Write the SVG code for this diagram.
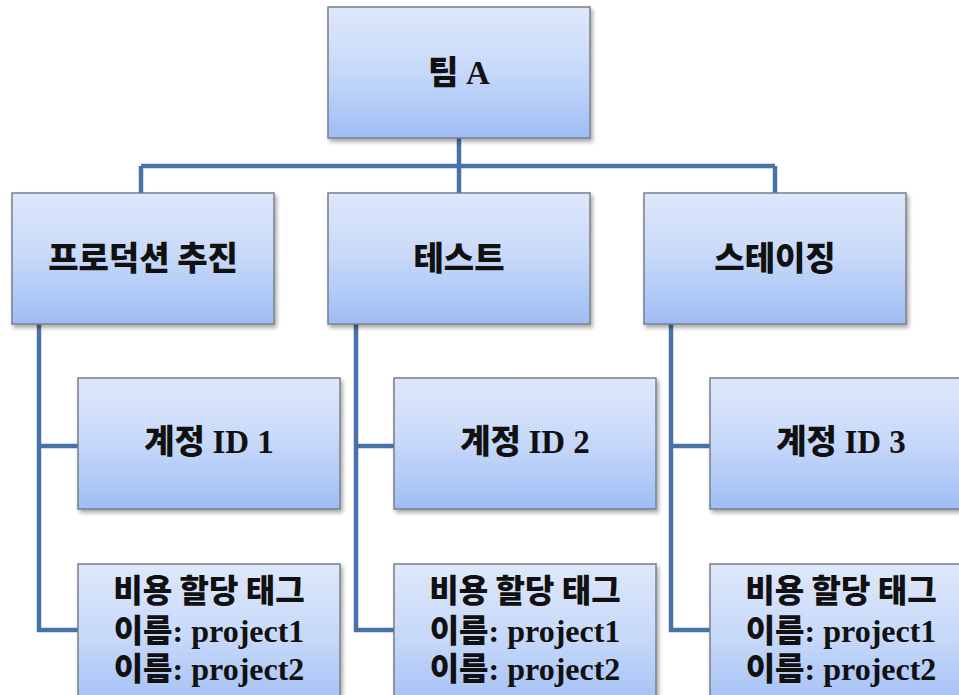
<svg xmlns="http://www.w3.org/2000/svg" width="959" height="695" viewBox="0 0 959 695">
<defs>
<linearGradient id="g" x1="0" y1="0" x2="0" y2="1">
<stop offset="0" stop-color="#dfe8fb"/>
<stop offset="0.5" stop-color="#c6d8f9"/>
<stop offset="1" stop-color="#9ebdf5"/>
</linearGradient>
<filter id="sh" x="-10%" y="-10%" width="130%" height="130%">
<feDropShadow dx="2" dy="3" stdDeviation="2" flood-color="#000" flood-opacity="0.35"/>
</filter>
<style>
.box{fill:url(#g);stroke:#7a7f88;stroke-width:1.5;filter:url(#sh)}
.t{font-family:"Noto Sans CJK KR","Noto Sans",sans-serif;font-weight:900;font-size:33px;fill:#111;text-anchor:middle}
.s{font-size:32px}
.l{font-family:"Liberation Serif",serif;font-weight:bold}
.c{fill:none;stroke:#4a72a8;stroke-width:4.5}
</style>
</defs>
<rect width="959" height="695" fill="#fff"/>
<g id="connectors">
<path class="c" d="M459 138 V166 M141 166 H775 M141 166 V193 M459 166 V193 M775 166 V193"/>
<path class="c" d="M39 324 V630 H78 M39 446 H78"/>
<path class="c" d="M356 324 V630 H394 M356 446 H394"/>
<path class="c" d="M671 324 V630 H710 M671 446 H710"/>
</g>
<g id="team"><rect class="box" x="328" y="7" width="262" height="131"/><text class="t" x="459" y="84">팀 <tspan class="l">A</tspan></text></g>
<g id="prod"><rect class="box" x="12" y="193" width="262" height="131"/><text class="t" x="143" y="270">프로덕션 추진</text></g>
<g id="test"><rect class="box" x="328" y="193" width="262" height="131"/><text class="t" x="459" y="270">테스트</text></g>
<g id="staging"><rect class="box" x="644" y="193" width="262" height="131"/><text class="t" x="775" y="270">스테이징</text></g>
<g id="acct1"><rect class="box" x="78" y="378" width="262" height="131"/><text class="t" x="209" y="453">계정 <tspan class="l">ID 1</tspan></text></g>
<g id="acct2"><rect class="box" x="394" y="378" width="262" height="131"/><text class="t" x="525" y="453">계정 <tspan class="l">ID 2</tspan></text></g>
<g id="acct3"><rect class="box" x="710" y="378" width="262" height="131"/><text class="t" x="841" y="453">계정 <tspan class="l">ID 3</tspan></text></g>
<g id="tag1"><rect class="box" x="78" y="564" width="262" height="150"/>
<text class="t s" x="209" y="602">비용 할당 태그</text>
<text class="t s" x="209" y="642">이름<tspan class="l">: project1</tspan></text>
<text class="t s" x="209" y="680">이름<tspan class="l">: project2</tspan></text></g>
<g id="tag2"><rect class="box" x="394" y="564" width="262" height="150"/>
<text class="t s" x="525" y="602">비용 할당 태그</text>
<text class="t s" x="525" y="642">이름<tspan class="l">: project1</tspan></text>
<text class="t s" x="525" y="680">이름<tspan class="l">: project2</tspan></text></g>
<g id="tag3"><rect class="box" x="710" y="564" width="262" height="150"/>
<text class="t s" x="841" y="602">비용 할당 태그</text>
<text class="t s" x="841" y="642">이름<tspan class="l">: project1</tspan></text>
<text class="t s" x="841" y="680">이름<tspan class="l">: project2</tspan></text></g>
</svg>
